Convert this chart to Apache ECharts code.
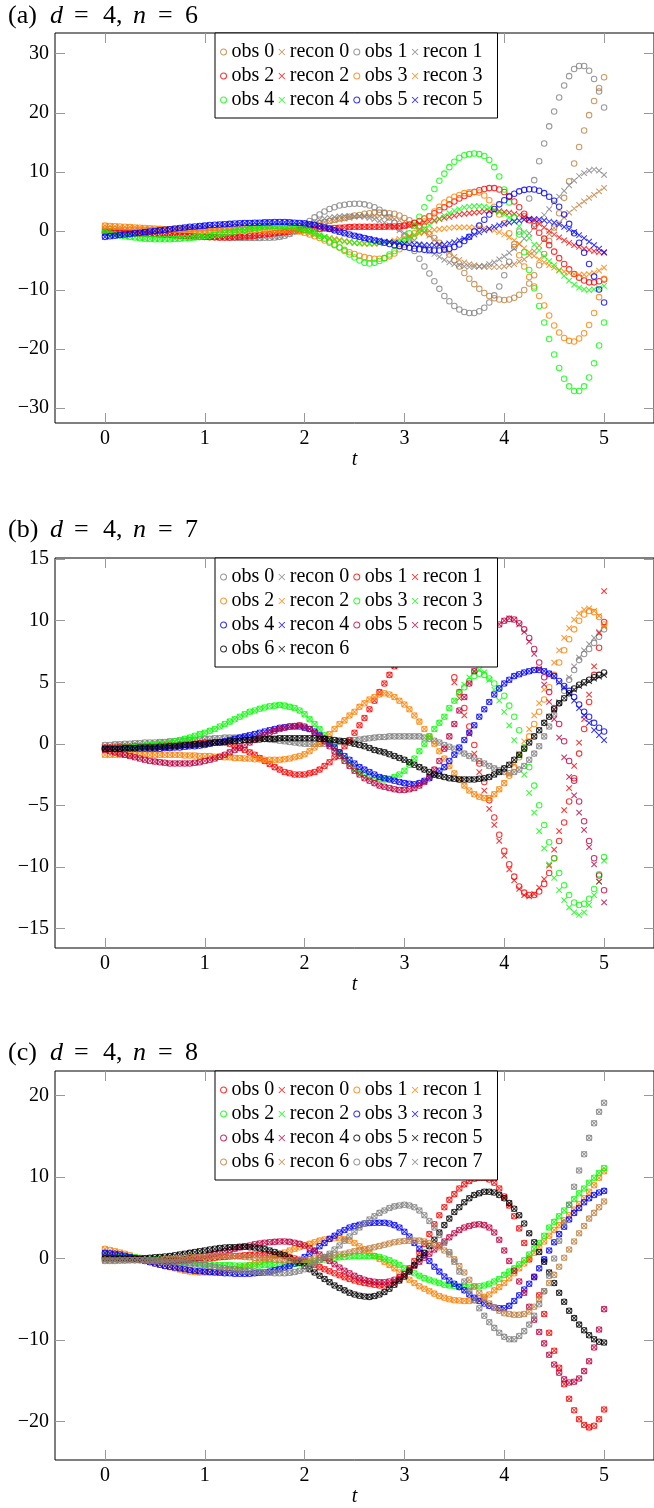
<!DOCTYPE html>
<html>
<head>
<meta charset="UTF-8">
<title>obs / recon</title>
<script src="https://cdn.jsdelivr.net/npm/echarts@6/dist/echarts.min.js"></script>
<style>
    body { margin: 0; padding: 0; background: #fff; }
    #chart { width: 654px; height: 1508px; }
</style>
</head>
<body>
<div id="chart"></div>
<script>
// sample times
var T = [0,0.05,0.1,0.15,0.2,0.25,0.3,0.35,0.4,0.45,0.5,0.55,0.6,0.65,0.7,0.75,0.8,0.85,0.9,0.95,
    1,1.05,1.1,1.15,1.2,1.25,1.3,1.35,1.4,1.45,1.5,1.55,1.6,1.65,1.7,1.75,1.8,1.85,1.9,1.95,
    2,2.05,2.1,2.15,2.2,2.25,2.3,2.35,2.4,2.45,2.5,2.55,2.6,2.65,2.7,2.75,2.8,2.85,2.9,2.95,
    3,3.05,3.1,3.15,3.2,3.25,3.3,3.35,3.4,3.45,3.5,3.55,3.6,3.65,3.7,3.75,3.8,3.85,3.9,3.95,
    4,4.05,4.1,4.15,4.2,4.25,4.3,4.35,4.4,4.45,4.5,4.55,4.6,4.65,4.7,4.75,4.8,4.85,4.9,4.95,5];

var xTicks = [0, 1, 2, 3, 4, 5];
var aYTicks = [-30, -20, -10, 0, 10, 20, 30];
var bYTicks = [-15, -10, -5, 0, 5, 10, 15];
var cYTicks = [-20, -10, 0, 10, 20];

// ---- (a) d = 4, n = 6
var aObs0 = [0.4,0.35,0.3,0.25,0.2,0.2,0.2,0.2,0.2,0.2,
    0.2,0.2,0.25,0.25,0.3,0.3,0.35,0.35,0.4,0.4,
    0.45,0.5,0.5,0.55,0.6,0.6,0.65,0.7,0.7,0.75,
    0.8,0.8,0.8,0.85,0.85,0.85,0.85,0.85,0.85,0.85,
    0.9,1.0,1.1,1.3,1.5,1.7,1.9,2.1,2.2,2.4,
    2.6,2.7,2.9,3.0,3.1,3.1,3.1,3.0,2.9,2.6,
    2.2,1.8,1.3,0.8,0.2,-0.5,-1.2,-2.0,-3.0,-4.0,
    -4.9,-6.0,-7.1,-8.1,-9.0,-9.8,-10.5,-11.0,-11.4,-11.6,
    -11.7,-11.6,-11.3,-10.8,-10.0,-8.9,-7.5,-5.8,-3.9,-1.7,
    0.6,3.0,5.6,8.4,11.4,14.2,17.0,19.6,22.0,24.2,
    26.0];
var aRec0 = [0.4,0.35,0.3,0.25,0.2,0.2,0.2,0.2,0.2,0.2,
    0.2,0.2,0.25,0.25,0.3,0.3,0.35,0.35,0.4,0.4,
    0.45,0.5,0.5,0.55,0.6,0.6,0.65,0.7,0.7,0.75,
    0.8,0.8,0.8,0.85,0.85,0.85,0.85,0.85,0.85,0.85,
    0.9,1.0,1.1,1.3,1.5,1.6,1.8,1.9,2.1,2.2,
    2.4,2.5,2.6,2.6,2.6,2.5,2.4,2.2,2.0,1.8,
    1.6,1.2,0.8,0.3,-0.2,-0.8,-1.5,-2.2,-3.0,-3.7,
    -4.4,-4.9,-5.3,-5.6,-5.8,-6.0,-6.1,-6.1,-6.1,-6.1,
    -6.0,-5.8,-5.6,-5.2,-4.8,-4.1,-3.4,-2.5,-1.5,-0.5,
    0.5,1.4,2.3,3.1,3.8,4.4,5.0,5.6,6.1,6.7,
    7.3];
var aObs1 = [0.0,-0.05,-0.1,-0.15,-0.2,-0.25,-0.3,-0.35,-0.4,-0.45,
    -0.5,-0.55,-0.6,-0.65,-0.7,-0.75,-0.8,-0.85,-0.9,-0.95,
    -1.0,-1.0,-1.05,-1.1,-1.1,-1.15,-1.15,-1.2,-1.2,-1.2,
    -1.2,-1.2,-1.15,-1.15,-1.1,-1.0,-0.8,-0.5,-0.1,0.5,
    1.1,1.7,2.3,2.8,3.3,3.7,4.0,4.3,4.45,4.55,
    4.6,4.6,4.5,4.3,4.0,3.6,3.0,2.3,1.4,0.4,
    -0.8,-2.0,-3.4,-4.7,-6.0,-7.2,-8.5,-9.8,-11.0,-11.9,
    -12.7,-13.3,-13.7,-13.9,-13.9,-13.6,-13.0,-12.1,-10.9,-9.4,
    -7.5,-5.2,-2.7,-0.1,2.5,5.5,8.6,11.8,14.8,17.7,
    20.2,22.6,24.6,26.2,27.4,27.9,27.9,27.1,25.7,23.6,
    20.9];
var aRec1 = [0.0,-0.05,-0.1,-0.15,-0.2,-0.25,-0.3,-0.35,-0.4,-0.45,
    -0.5,-0.55,-0.6,-0.65,-0.7,-0.75,-0.8,-0.85,-0.9,-0.95,
    -1.0,-1.0,-1.05,-1.1,-1.1,-1.15,-1.15,-1.2,-1.2,-1.2,
    -1.2,-1.2,-1.15,-1.15,-1.1,-1.0,-0.8,-0.5,-0.1,0.4,
    0.9,1.3,1.6,1.9,2.1,2.25,2.35,2.45,2.5,2.5,
    2.5,2.5,2.4,2.2,2.0,1.7,1.4,1.0,0.6,0.1,
    -0.4,-1.0,-1.6,-2.2,-2.8,-3.4,-3.9,-4.4,-4.9,-5.3,
    -5.6,-5.8,-6.0,-6.1,-6.1,-6.0,-5.9,-5.6,-5.3,-4.8,
    -4.3,-3.7,-3.0,-2.2,-1.3,-0.4,0.6,1.6,2.7,3.7,
    4.8,5.8,6.8,7.7,8.5,9.3,9.8,10.2,10.4,10.2,
    9.5];
var aObs2 = [-0.3,-0.3,-0.35,-0.35,-0.4,-0.4,-0.45,-0.45,-0.5,-0.5,
    -0.55,-0.6,-0.65,-0.7,-0.75,-0.8,-0.85,-0.9,-0.95,-1.0,
    -1.0,-1.05,-1.05,-1.1,-1.1,-1.1,-1.05,-1.0,-0.95,-0.9,
    -0.8,-0.7,-0.6,-0.5,-0.4,-0.3,-0.2,-0.1,0.0,0.1,
    0.2,0.25,0.3,0.35,0.4,0.45,0.5,0.55,0.6,0.65,
    0.7,0.7,0.7,0.7,0.7,0.7,0.7,0.75,0.75,0.8,
    0.9,1.1,1.4,1.7,2.1,2.5,3.0,3.5,4.0,4.5,
    5.0,5.5,5.9,6.3,6.6,6.9,7.1,7.25,7.25,7.0,
    6.6,5.9,5.0,4.0,2.9,1.8,0.8,-0.3,-1.3,-2.4,
    -3.5,-4.6,-5.6,-6.5,-7.3,-7.9,-8.4,-8.7,-8.7,-8.5,
    -8.2];
var aRec2 = [-0.3,-0.3,-0.35,-0.35,-0.4,-0.4,-0.45,-0.45,-0.5,-0.5,
    -0.55,-0.6,-0.65,-0.7,-0.75,-0.8,-0.85,-0.9,-0.95,-1.0,
    -1.0,-1.05,-1.05,-1.1,-1.1,-1.1,-1.05,-1.0,-0.95,-0.9,
    -0.8,-0.7,-0.6,-0.5,-0.4,-0.3,-0.2,-0.1,0.0,0.1,
    0.2,0.25,0.3,0.35,0.4,0.45,0.5,0.55,0.6,0.65,
    0.7,0.7,0.7,0.7,0.7,0.7,0.7,0.75,0.75,0.8,
    0.8,0.9,1.1,1.3,1.4,1.6,1.8,2.0,2.2,2.4,
    2.6,2.8,2.9,3.0,3.1,3.2,3.3,3.35,3.4,3.35,
    3.2,3.1,2.9,2.7,2.4,2.1,1.7,1.2,0.6,0.0,
    -0.6,-1.1,-1.6,-2.0,-2.4,-2.7,-3.0,-3.2,-3.4,-3.6,
    -3.7];
var aObs3 = [0.9,0.85,0.8,0.75,0.7,0.65,0.6,0.55,0.5,0.45,
    0.4,0.35,0.3,0.25,0.2,0.2,0.15,0.15,0.1,0.1,
    0.1,0.1,0.1,0.15,0.15,0.2,0.2,0.2,0.2,0.2,
    0.2,0.2,0.2,0.2,0.2,0.15,0.1,0.05,0.0,-0.1,
    -0.3,-0.6,-0.9,-1.2,-1.6,-2.0,-2.4,-2.8,-3.2,-3.6,
    -3.9,-4.2,-4.4,-4.6,-4.7,-4.7,-4.6,-4.3,-3.8,-3.1,
    -2.3,-1.4,-0.4,0.6,1.6,2.5,3.3,4.1,4.8,5.3,
    5.8,6.1,6.4,6.55,6.6,6.5,6.0,5.2,4.1,2.8,
    1.3,-0.4,-2.2,-4.1,-6.0,-7.8,-9.4,-11.0,-12.6,-14.3,
    -16.0,-17.2,-18.1,-18.6,-18.7,-18.2,-17.3,-15.9,-13.9,-11.2,
    -8.1];
var aRec3 = [0.9,0.85,0.8,0.75,0.7,0.65,0.6,0.55,0.5,0.45,
    0.4,0.35,0.3,0.25,0.2,0.2,0.15,0.15,0.1,0.1,
    0.1,0.1,0.1,0.15,0.15,0.2,0.2,0.2,0.2,0.2,
    0.2,0.2,0.2,0.2,0.2,0.15,0.1,0.05,0.0,-0.1,
    -0.3,-0.5,-0.7,-0.85,-1.0,-1.2,-1.35,-1.5,-1.7,-1.85,
    -2.0,-2.1,-2.2,-2.2,-2.2,-2.1,-2.0,-1.8,-1.6,-1.35,
    -1.1,-0.85,-0.6,-0.4,-0.2,0.0,0.2,0.3,0.4,0.5,
    0.6,0.6,0.6,0.6,0.6,0.55,0.5,0.3,0.1,-0.2,
    -0.6,-1.1,-1.6,-2.2,-2.9,-3.6,-4.2,-4.8,-5.3,-5.8,
    -6.2,-6.6,-6.9,-7.1,-7.3,-7.4,-7.4,-7.3,-7.1,-6.7,
    -6.2];
var aObs4 = [-0.3,-0.45,-0.6,-0.75,-0.9,-1.0,-1.1,-1.2,-1.3,-1.35,
    -1.4,-1.4,-1.4,-1.4,-1.35,-1.3,-1.25,-1.2,-1.1,-1.0,
    -0.9,-0.8,-0.7,-0.55,-0.4,-0.25,-0.1,0.05,0.2,0.35,
    0.5,0.6,0.7,0.75,0.8,0.8,0.8,0.75,0.65,0.5,
    0.3,0.0,-0.4,-0.8,-1.3,-1.8,-2.3,-2.8,-3.4,-4.0,
    -4.5,-5.0,-5.4,-5.5,-5.4,-5.1,-4.6,-4.0,-3.4,-2.6,
    -1.6,-0.4,0.9,2.4,4.0,5.6,7.1,8.5,9.7,10.8,
    11.7,12.4,12.8,13.0,13.1,13.0,12.7,12.0,10.8,9.2,
    7.0,4.8,2.3,-0.6,-3.6,-6.6,-9.7,-12.7,-15.5,-18.3,
    -20.9,-23.2,-25.0,-26.3,-27.1,-27.1,-26.3,-24.8,-22.4,-19.4,
    -15.5];
var aRec4 = [-0.3,-0.45,-0.6,-0.75,-0.9,-1.0,-1.1,-1.2,-1.3,-1.35,
    -1.4,-1.4,-1.4,-1.4,-1.35,-1.3,-1.25,-1.2,-1.1,-1.0,
    -0.9,-0.8,-0.7,-0.55,-0.4,-0.25,-0.1,0.05,0.2,0.35,
    0.5,0.6,0.7,0.75,0.8,0.8,0.8,0.75,0.65,0.5,
    0.2,-0.1,-0.4,-0.7,-1.0,-1.25,-1.5,-1.65,-1.8,-1.9,
    -2.0,-2.05,-2.1,-2.1,-2.1,-2.05,-2.0,-1.95,-1.9,-1.8,
    -1.7,-1.3,-0.8,-0.2,0.4,1.0,1.6,2.1,2.6,3.0,
    3.4,3.7,4.0,4.1,4.2,4.2,4.1,3.9,3.6,3.2,
    2.8,2.3,1.6,0.8,-0.2,-1.2,-2.3,-3.3,-4.3,-5.1,
    -5.8,-6.7,-7.6,-8.4,-9.1,-9.6,-9.9,-10.0,-9.9,-9.7,
    -9.3];
var aObs5 = [-1.0,-0.9,-0.8,-0.7,-0.6,-0.5,-0.4,-0.3,-0.2,-0.1,
    0.0,0.1,0.2,0.3,0.4,0.5,0.6,0.7,0.75,0.85,
    0.9,1.0,1.05,1.1,1.15,1.2,1.25,1.3,1.35,1.35,
    1.4,1.4,1.45,1.45,1.5,1.5,1.5,1.45,1.4,1.35,
    1.3,1.15,1.0,0.8,0.6,0.35,0.1,-0.15,-0.4,-0.6,
    -0.8,-1.0,-1.2,-1.4,-1.6,-1.8,-2.0,-2.2,-2.4,-2.55,
    -2.7,-2.85,-3.0,-3.1,-3.2,-3.25,-3.3,-3.3,-3.2,-3.0,
    -2.7,-2.3,-1.7,-1.0,-0.1,0.9,1.9,2.8,3.7,4.5,
    5.2,5.8,6.3,6.7,6.95,7.05,7.0,6.8,6.4,5.8,
    5.1,4.1,2.8,1.2,-0.4,-2.0,-3.7,-5.6,-7.7,-9.9,
    -12.1];
var aRec5 = [-1.0,-0.9,-0.8,-0.7,-0.6,-0.5,-0.4,-0.3,-0.2,-0.1,
    0.0,0.1,0.2,0.3,0.4,0.5,0.6,0.7,0.75,0.85,
    0.9,1.0,1.05,1.1,1.15,1.2,1.25,1.3,1.35,1.35,
    1.4,1.4,1.45,1.45,1.5,1.5,1.5,1.45,1.4,1.35,
    1.3,1.15,1.0,0.8,0.6,0.35,0.1,-0.15,-0.4,-0.6,
    -0.8,-1.0,-1.2,-1.35,-1.5,-1.65,-1.8,-1.9,-2.0,-2.1,
    -2.2,-2.25,-2.3,-2.35,-2.4,-2.4,-2.4,-2.35,-2.3,-2.1,
    -1.9,-1.6,-1.3,-1.0,-0.6,-0.25,0.1,0.4,0.7,0.95,
    1.2,1.4,1.6,1.75,1.9,1.95,2.0,1.95,1.8,1.6,
    1.4,1.1,0.7,0.25,-0.2,-0.7,-1.2,-1.8,-2.4,-3.0,
    -3.6];

// ---- (b) d = 4, n = 7
var bObs0 = [-0.1,-0.1,-0.05,-0.05,0.0,0.0,0.05,0.05,0.1,0.1,
    0.1,0.15,0.15,0.2,0.2,0.25,0.25,0.3,0.3,0.35,
    0.4,0.4,0.45,0.45,0.5,0.5,0.5,0.5,0.5,0.5,
    0.45,0.45,0.4,0.35,0.3,0.25,0.2,0.15,0.1,0.05,
    0.0,0.0,0.0,0.0,0.0,0.05,0.1,0.15,0.2,0.25,
    0.3,0.35,0.4,0.45,0.5,0.55,0.55,0.6,0.6,0.6,
    0.6,0.6,0.6,0.6,0.5,0.4,0.25,0.1,-0.1,-0.25,
    -0.4,-0.6,-0.8,-1.0,-1.2,-1.4,-1.6,-1.8,-2.0,-2.15,
    -2.3,-2.4,-2.3,-2.1,-1.8,-1.3,-0.8,-0.2,0.6,1.4,
    2.4,3.3,4.3,5.2,6.0,6.8,7.3,7.7,8.2,8.7,
    9.3];
var bRec0 = [-0.1,-0.1,-0.05,-0.05,0.0,0.0,0.05,0.05,0.1,0.1,
    0.1,0.15,0.15,0.2,0.2,0.25,0.25,0.3,0.3,0.35,
    0.4,0.4,0.45,0.45,0.5,0.5,0.5,0.5,0.5,0.5,
    0.45,0.45,0.4,0.35,0.3,0.25,0.2,0.15,0.1,0.05,
    0.0,0.0,0.0,0.0,0.0,0.05,0.1,0.15,0.2,0.25,
    0.3,0.35,0.4,0.45,0.5,0.55,0.55,0.6,0.6,0.6,
    0.6,0.6,0.6,0.6,0.5,0.4,0.25,0.1,-0.1,-0.25,
    -0.4,-0.6,-0.8,-1.0,-1.2,-1.4,-1.6,-1.8,-2.0,-2.15,
    -2.3,-2.4,-2.3,-2.1,-1.8,-1.3,-0.8,-0.2,0.6,1.4,
    2.4,3.4,4.5,5.4,6.3,7.0,7.6,8.1,8.6,9.1,
    9.6];
var bObs1 = [-0.3,-0.3,-0.3,-0.25,-0.25,-0.25,-0.2,-0.2,-0.2,-0.2,
    -0.2,-0.15,-0.15,-0.1,-0.1,-0.05,-0.05,0.0,0.0,0.05,
    0.1,0.1,0.1,0.1,0.1,0.0,-0.2,-0.35,-0.5,-0.7,
    -0.9,-1.15,-1.4,-1.65,-1.9,-2.1,-2.3,-2.4,-2.5,-2.5,
    -2.5,-2.4,-2.3,-2.1,-1.8,-1.5,-1.1,-0.7,-0.2,0.3,
    0.9,1.5,2.1,2.8,3.5,4.2,4.9,5.6,6.3,6.9,
    7.5,7.9,8.3,8.5,8.6,8.5,8.3,7.9,7.3,6.5,
    5.4,4.2,2.9,1.4,-0.1,-1.6,-3.1,-4.6,-6.0,-7.4,
    -8.7,-9.8,-10.8,-11.6,-12.1,-12.3,-12.3,-12.0,-11.4,-10.5,
    -9.3,-7.9,-6.4,-4.7,-2.8,-0.8,1.2,3.4,5.6,7.8,
    9.9];
var bRec1 = [-0.3,-0.3,-0.3,-0.25,-0.25,-0.25,-0.2,-0.2,-0.2,-0.2,
    -0.2,-0.15,-0.15,-0.1,-0.1,-0.05,-0.05,0.0,0.0,0.05,
    0.1,0.1,0.1,0.1,0.1,0.0,-0.2,-0.35,-0.5,-0.7,
    -0.9,-1.15,-1.4,-1.65,-1.9,-2.1,-2.3,-2.4,-2.5,-2.5,
    -2.5,-2.4,-2.3,-2.1,-1.8,-1.5,-1.1,-0.7,-0.2,0.3,
    0.9,1.5,2.1,2.8,3.5,4.2,4.9,5.6,6.3,6.9,
    7.5,7.9,8.3,8.5,8.6,8.5,8.3,7.9,7.3,6.5,
    5.0,3.7,2.3,0.8,-0.8,-2.3,-3.8,-5.3,-6.6,-7.9,
    -9.1,-10.2,-11.1,-11.8,-12.3,-12.4,-12.2,-11.7,-11.0,-9.9,
    -8.6,-7.1,-5.4,-3.6,-1.8,0.1,2.0,4.0,6.3,9.0,
    12.4];
var bObs2 = [-0.9,-0.9,-0.9,-0.9,-0.9,-0.9,-0.9,-0.9,-0.9,-0.9,
    -0.9,-0.9,-0.9,-0.9,-0.9,-0.9,-0.95,-0.95,-0.95,-1.0,
    -1.0,-1.0,-1.05,-1.05,-1.1,-1.1,-1.15,-1.15,-1.2,-1.2,
    -1.25,-1.25,-1.3,-1.3,-1.3,-1.3,-1.25,-1.2,-1.1,-1.0,
    -0.85,-0.6,-0.3,0.0,0.4,0.8,1.2,1.6,1.9,2.3,
    2.6,3.0,3.3,3.6,3.8,4.0,4.1,4.0,3.8,3.5,
    3.2,2.8,2.3,1.8,1.2,0.6,0.0,-0.6,-1.2,-1.8,
    -2.4,-2.9,-3.4,-3.8,-4.1,-4.3,-4.4,-4.4,-4.1,-3.7,
    -3.2,-2.6,-1.9,-1.1,-0.3,0.6,1.6,2.6,3.6,4.6,
    5.6,6.6,7.6,8.5,9.3,10.0,10.5,10.8,10.7,10.3,
    9.7];
var bRec2 = [-0.9,-0.9,-0.9,-0.9,-0.9,-0.9,-0.9,-0.9,-0.9,-0.9,
    -0.9,-0.9,-0.9,-0.9,-0.9,-0.9,-0.95,-0.95,-0.95,-1.0,
    -1.0,-1.0,-1.05,-1.05,-1.1,-1.1,-1.15,-1.15,-1.2,-1.2,
    -1.25,-1.25,-1.3,-1.3,-1.3,-1.3,-1.25,-1.2,-1.1,-1.0,
    -0.85,-0.6,-0.3,0.0,0.4,0.8,1.2,1.6,1.9,2.3,
    2.6,3.0,3.3,3.6,3.8,4.0,4.1,4.0,3.8,3.5,
    3.2,2.8,2.3,1.8,1.2,0.6,0.0,-0.6,-1.2,-1.8,
    -2.4,-2.9,-3.4,-3.8,-4.1,-4.3,-4.4,-4.4,-4.1,-3.7,
    -3.2,-2.5,-1.7,-0.8,0.2,1.2,2.3,3.3,4.4,5.5,
    6.6,7.6,8.6,9.4,10.1,10.6,10.9,11.0,10.8,10.4,
    9.5];
var bObs3 = [-0.4,-0.4,-0.35,-0.35,-0.3,-0.3,-0.25,-0.2,-0.15,-0.1,
    -0.05,0.0,0.0,0.1,0.2,0.3,0.4,0.5,0.65,0.8,
    0.9,1.05,1.2,1.4,1.6,1.8,2.0,2.2,2.4,2.6,
    2.7,2.85,2.95,3.05,3.1,3.15,3.1,3.0,2.9,2.7,
    2.4,2.0,1.6,1.2,0.7,0.2,-0.3,-0.8,-1.2,-1.6,
    -2.0,-2.3,-2.5,-2.65,-2.8,-2.85,-2.9,-2.85,-2.7,-2.5,
    -2.2,-1.7,-1.2,-0.6,0.0,0.6,1.2,1.7,2.2,2.9,
    3.5,4.1,4.6,5.1,5.5,5.7,5.6,5.3,4.9,4.5,
    3.9,3.1,2.2,1.1,-0.3,-1.9,-3.4,-5.0,-6.6,-8.0,
    -9.3,-10.5,-11.5,-12.3,-12.9,-13.1,-13.0,-12.6,-11.8,-10.6,
    -9.2];
var bRec3 = [-0.4,-0.4,-0.35,-0.35,-0.3,-0.3,-0.25,-0.2,-0.15,-0.1,
    -0.05,0.0,0.0,0.1,0.2,0.3,0.4,0.5,0.65,0.8,
    0.9,1.05,1.2,1.4,1.6,1.8,2.0,2.2,2.4,2.6,
    2.7,2.85,2.95,3.05,3.1,3.15,3.1,3.0,2.9,2.7,
    2.4,2.0,1.6,1.2,0.7,0.2,-0.3,-0.8,-1.2,-1.6,
    -2.0,-2.3,-2.5,-2.65,-2.8,-2.85,-2.9,-2.85,-2.7,-2.5,
    -2.2,-1.7,-1.2,-0.6,0.0,0.6,1.2,1.7,2.2,2.9,
    3.5,4.2,4.8,5.4,5.8,6.0,5.8,5.2,4.4,3.5,
    2.6,1.5,0.3,-1.0,-2.5,-4.0,-5.6,-7.1,-8.5,-9.8,
    -10.9,-11.9,-12.7,-13.3,-13.7,-13.9,-13.7,-13.1,-12.3,-11.2,
    -9.5];
var bObs4 = [-0.4,-0.4,-0.4,-0.4,-0.4,-0.4,-0.4,-0.4,-0.4,-0.4,
    -0.4,-0.4,-0.35,-0.35,-0.3,-0.3,-0.25,-0.2,-0.2,-0.15,
    -0.1,0.0,0.1,0.15,0.2,0.3,0.4,0.5,0.6,0.7,
    0.8,0.9,1.0,1.1,1.2,1.3,1.35,1.4,1.4,1.4,
    1.3,1.2,1.0,0.7,0.4,0.0,-0.3,-0.7,-1.0,-1.3,
    -1.6,-1.9,-2.1,-2.3,-2.5,-2.7,-2.8,-2.9,-3.0,-3.1,
    -3.2,-3.25,-3.3,-3.2,-3.0,-2.8,-2.5,-2.2,-1.9,-1.4,
    -0.9,-0.3,0.3,0.9,1.5,2.2,2.8,3.4,4.0,4.5,
    4.9,5.2,5.5,5.65,5.8,5.9,6.0,6.0,5.9,5.7,
    5.5,5.1,4.7,4.3,3.8,3.2,2.6,2.2,1.7,1.3,
    1.0];
var bRec4 = [-0.4,-0.4,-0.4,-0.4,-0.4,-0.4,-0.4,-0.4,-0.4,-0.4,
    -0.4,-0.4,-0.35,-0.35,-0.3,-0.3,-0.25,-0.2,-0.2,-0.15,
    -0.1,0.0,0.1,0.15,0.2,0.3,0.4,0.5,0.6,0.7,
    0.8,0.9,1.0,1.1,1.2,1.3,1.35,1.4,1.4,1.4,
    1.3,1.2,1.0,0.7,0.4,0.0,-0.3,-0.7,-1.0,-1.3,
    -1.6,-1.9,-2.1,-2.3,-2.5,-2.7,-2.8,-2.9,-3.0,-3.1,
    -3.2,-3.25,-3.3,-3.2,-3.0,-2.8,-2.5,-2.2,-1.9,-1.4,
    -0.9,-0.3,0.3,0.9,1.5,2.2,2.8,3.4,4.0,4.5,
    4.9,5.2,5.5,5.65,5.8,5.9,6.0,6.0,5.9,5.7,
    5.5,5.0,4.6,4.1,3.5,2.9,2.3,1.7,1.1,0.7,
    0.3];
var bObs5 = [-0.5,-0.6,-0.7,-0.8,-0.9,-1.0,-1.1,-1.2,-1.3,-1.4,
    -1.45,-1.5,-1.55,-1.6,-1.6,-1.6,-1.6,-1.6,-1.55,-1.5,
    -1.4,-1.3,-1.2,-1.05,-0.9,-0.7,-0.5,-0.3,-0.1,0.1,
    0.3,0.5,0.7,0.9,1.05,1.2,1.3,1.4,1.45,1.5,
    1.4,1.2,0.9,0.6,0.2,-0.2,-0.6,-1.0,-1.4,-1.8,
    -2.2,-2.5,-2.8,-3.0,-3.2,-3.4,-3.5,-3.6,-3.7,-3.75,
    -3.75,-3.7,-3.6,-3.4,-3.1,-2.7,-2.1,-1.4,-0.4,0.6,
    1.6,2.7,3.8,4.9,5.9,6.9,7.9,8.7,9.3,9.7,
    10.0,10.15,10.1,9.8,9.3,8.6,7.7,6.6,5.4,4.2,
    2.9,1.6,0.2,-1.4,-3.0,-4.7,-6.3,-7.9,-9.3,-10.7,
    -11.9];
var bRec5 = [-0.5,-0.6,-0.7,-0.8,-0.9,-1.0,-1.1,-1.2,-1.3,-1.4,
    -1.45,-1.5,-1.55,-1.6,-1.6,-1.6,-1.6,-1.6,-1.55,-1.5,
    -1.4,-1.3,-1.2,-1.05,-0.9,-0.7,-0.5,-0.3,-0.1,0.1,
    0.3,0.5,0.7,0.9,1.05,1.2,1.3,1.4,1.45,1.5,
    1.4,1.2,0.9,0.6,0.2,-0.2,-0.6,-1.0,-1.4,-1.8,
    -2.2,-2.5,-2.8,-3.0,-3.2,-3.4,-3.5,-3.6,-3.7,-3.75,
    -3.75,-3.7,-3.6,-3.4,-3.1,-2.7,-2.1,-1.4,-0.4,0.6,
    1.6,2.7,3.8,4.9,5.9,6.9,7.9,8.7,9.3,9.7,
    10.0,10.2,10.1,9.7,9.1,8.3,7.3,6.1,4.8,3.4,
    2.0,0.5,-1.1,-2.7,-4.2,-5.6,-7.0,-8.4,-9.8,-11.2,
    -12.9];
var bObs6 = [-0.4,-0.4,-0.4,-0.4,-0.35,-0.35,-0.35,-0.3,-0.3,-0.3,
    -0.3,-0.25,-0.25,-0.2,-0.2,-0.15,-0.1,-0.1,-0.05,0.0,
    0.0,0.05,0.1,0.1,0.15,0.2,0.2,0.25,0.3,0.3,
    0.35,0.35,0.4,0.4,0.4,0.45,0.45,0.45,0.45,0.45,
    0.45,0.45,0.45,0.4,0.4,0.35,0.3,0.25,0.2,0.1,
    0.0,-0.1,-0.2,-0.35,-0.5,-0.6,-0.7,-0.85,-1.0,-1.15,
    -1.3,-1.5,-1.7,-1.9,-2.1,-2.3,-2.5,-2.6,-2.7,-2.8,
    -2.85,-2.9,-2.9,-2.9,-2.9,-2.85,-2.8,-2.7,-2.5,-2.3,
    -2.0,-1.7,-1.3,-0.9,-0.4,0.1,0.6,1.1,1.7,2.2,
    2.8,3.3,3.7,4.1,4.5,4.8,5.0,5.2,5.4,5.6,
    5.8];
var bRec6 = [-0.4,-0.4,-0.4,-0.4,-0.35,-0.35,-0.35,-0.3,-0.3,-0.3,
    -0.3,-0.25,-0.25,-0.2,-0.2,-0.15,-0.1,-0.1,-0.05,0.0,
    0.0,0.05,0.1,0.1,0.15,0.2,0.2,0.25,0.3,0.3,
    0.35,0.35,0.4,0.4,0.4,0.45,0.45,0.45,0.45,0.45,
    0.45,0.45,0.45,0.4,0.4,0.35,0.3,0.25,0.2,0.1,
    0.0,-0.1,-0.2,-0.35,-0.5,-0.6,-0.7,-0.85,-1.0,-1.15,
    -1.3,-1.5,-1.7,-1.9,-2.1,-2.3,-2.5,-2.6,-2.7,-2.8,
    -2.85,-2.9,-2.9,-2.9,-2.9,-2.85,-2.8,-2.7,-2.5,-2.3,
    -2.0,-1.7,-1.3,-0.9,-0.4,0.1,0.6,1.1,1.7,2.2,
    2.8,3.3,3.7,4.1,4.4,4.7,4.9,5.1,5.3,5.45,
    5.6];

// ---- (c) d = 4, n = 8 (recon markers sit right on the obs markers)
var cObs0 = [0.6,0.5,0.4,0.3,0.2,0.1,0.0,-0.1,-0.2,-0.25,
    -0.3,-0.3,-0.3,-0.3,-0.3,-0.3,-0.3,-0.25,-0.2,-0.15,
    -0.1,0.0,0.1,0.15,0.2,0.25,0.3,0.35,0.4,0.45,
    0.5,0.5,0.5,0.5,0.45,0.4,0.3,0.15,0.0,-0.15,
    -0.3,-0.55,-0.8,-1.05,-1.3,-1.55,-1.8,-2.05,-2.3,-2.5,
    -2.7,-2.85,-3.0,-3.1,-3.2,-3.3,-3.3,-3.2,-2.9,-2.5,
    -1.9,-1.2,-0.3,0.7,1.8,3.0,4.2,5.3,6.3,7.2,
    7.9,8.6,9.1,9.5,9.8,9.9,9.9,9.7,9.3,8.6,
    7.6,6.5,5.2,3.7,1.9,-0.1,-2.2,-4.5,-6.8,-9.1,
    -11.3,-13.4,-15.4,-17.2,-18.6,-19.7,-20.4,-20.7,-20.5,-19.7,
    -18.5];
var cObs1 = [1.2,1.05,0.9,0.75,0.6,0.4,0.2,0.0,-0.2,-0.4,
    -0.6,-0.75,-0.9,-1.05,-1.2,-1.35,-1.5,-1.6,-1.65,-1.7,
    -1.7,-1.7,-1.65,-1.6,-1.5,-1.4,-1.25,-1.1,-1.0,-0.8,
    -0.6,-0.4,-0.2,0.0,0.3,0.5,0.75,1.0,1.2,1.4,
    1.6,1.8,2.0,2.2,2.35,2.45,2.5,2.5,2.4,2.2,
    1.9,1.5,1.1,0.7,0.3,-0.05,-0.4,-0.8,-1.2,-1.7,
    -2.2,-2.6,-3.0,-3.4,-3.7,-4.0,-4.3,-4.6,-4.8,-5.0,
    -5.1,-5.15,-5.2,-5.2,-5.1,-4.9,-4.7,-4.4,-3.9,-3.5,
    -3.0,-2.4,-1.8,-1.2,-0.6,0.1,0.7,1.4,2.1,2.8,
    3.5,4.1,4.7,5.3,6.0,6.7,7.4,8.2,9.0,9.9,
    10.7];
var cObs2 = [0.4,0.35,0.3,0.25,0.2,0.2,0.15,0.1,0.05,0.0,
    -0.05,-0.1,-0.15,-0.2,-0.3,-0.35,-0.4,-0.5,-0.55,-0.6,
    -0.65,-0.7,-0.75,-0.8,-0.8,-0.8,-0.85,-0.85,-0.85,-0.85,
    -0.85,-0.85,-0.8,-0.8,-0.8,-0.75,-0.75,-0.7,-0.65,-0.6,
    -0.5,-0.4,-0.3,-0.2,-0.1,0.0,0.1,0.15,0.2,0.25,
    0.3,0.3,0.3,0.3,0.3,0.2,0.0,-0.2,-0.5,-0.8,
    -1.2,-1.5,-1.8,-2.1,-2.4,-2.6,-2.8,-3.0,-3.2,-3.3,
    -3.35,-3.4,-3.45,-3.45,-3.45,-3.4,-3.3,-3.1,-2.8,-2.5,
    -2.0,-1.6,-1.2,-0.7,-0.2,0.5,1.2,1.9,2.8,3.8,
    4.5,5.2,5.9,6.6,7.3,8.0,8.6,9.3,9.9,10.5,
    11.1];
var cObs3 = [0.7,0.65,0.6,0.5,0.35,0.2,0.05,-0.1,-0.3,-0.45,
    -0.6,-0.75,-0.9,-1.0,-1.1,-1.2,-1.3,-1.4,-1.5,-1.55,
    -1.6,-1.65,-1.7,-1.75,-1.8,-1.8,-1.85,-1.85,-1.85,-1.85,
    -1.8,-1.75,-1.7,-1.6,-1.45,-1.3,-1.1,-0.9,-0.6,-0.3,
    0.2,0.6,1.0,1.5,1.9,2.4,2.8,3.2,3.5,3.8,
    4.0,4.15,4.3,4.35,4.4,4.4,4.4,4.3,4.1,3.8,
    3.3,2.7,1.9,1.2,0.4,-0.3,-1.0,-1.6,-2.2,-2.7,
    -3.1,-3.5,-3.9,-4.4,-4.8,-5.2,-5.5,-5.8,-6.0,-6.1,
    -6.1,-5.8,-5.2,-4.5,-3.8,-3.1,-2.3,-1.2,-0.1,1.0,
    2.0,3.0,3.9,4.8,5.6,6.2,6.9,7.4,7.8,8.1,
    8.3];
var cObs4 = [0.1,0.1,0.05,0.05,0.0,0.0,-0.05,-0.1,-0.15,-0.2,
    -0.25,-0.3,-0.3,-0.3,-0.3,-0.25,-0.2,-0.1,0.0,0.1,
    0.3,0.45,0.6,0.75,0.9,1.05,1.2,1.35,1.5,1.6,
    1.75,1.85,1.95,2.0,2.05,2.1,2.1,2.05,1.95,1.8,
    1.6,1.3,0.9,0.5,0.1,-0.3,-0.7,-1.1,-1.5,-1.8,
    -2.1,-2.4,-2.6,-2.75,-2.85,-2.9,-2.9,-2.8,-2.6,-2.3,
    -1.9,-1.4,-0.9,-0.4,0.1,0.6,1.1,1.6,2.1,2.6,
    3.1,3.5,3.8,4.0,4.15,4.2,4.1,3.8,3.2,2.3,
    1.0,-0.3,-1.5,-2.8,-4.2,-5.9,-7.5,-9.0,-10.4,-11.8,
    -13.0,-14.0,-14.8,-15.2,-15.1,-14.7,-13.8,-12.6,-10.9,-8.7,
    -6.2];
var cObs5 = [0.0,0.0,0.0,0.0,0.0,0.0,0.0,0.0,0.05,0.1,
    0.15,0.2,0.25,0.3,0.4,0.5,0.6,0.7,0.8,0.9,
    1.0,1.1,1.2,1.3,1.35,1.4,1.4,1.45,1.45,1.4,
    1.35,1.25,1.15,1.0,0.8,0.6,0.4,0.1,-0.2,-0.5,
    -0.9,-1.3,-1.7,-2.1,-2.5,-2.9,-3.3,-3.6,-3.9,-4.2,
    -4.4,-4.55,-4.65,-4.7,-4.6,-4.4,-4.1,-3.7,-3.2,-2.7,
    -2.2,-1.6,-0.8,0.0,0.7,1.5,2.3,3.2,4.1,4.9,
    5.7,6.3,6.9,7.4,7.8,8.0,8.2,8.2,8.1,7.8,
    7.4,6.8,6.1,5.3,4.3,3.1,2.0,0.8,-0.4,-1.7,
    -3.0,-4.2,-5.3,-6.4,-7.3,-8.1,-8.8,-9.4,-9.9,-10.2,
    -10.3];
var cObs6 = [-0.3,-0.3,-0.3,-0.25,-0.25,-0.2,-0.2,-0.2,-0.2,-0.2,
    -0.2,-0.15,-0.1,-0.05,0.0,0.05,0.1,0.15,0.2,0.2,
    0.25,0.25,0.3,0.3,0.3,0.3,0.3,0.25,0.2,0.15,
    0.1,0.05,0.0,-0.05,-0.1,-0.15,-0.2,-0.2,-0.2,-0.2,
    -0.2,-0.1,0.0,0.1,0.2,0.3,0.4,0.5,0.6,0.75,
    0.9,1.0,1.1,1.25,1.4,1.55,1.7,1.85,2.0,2.1,
    2.15,2.2,2.2,2.2,2.1,1.9,1.7,1.4,1.0,0.5,
    -0.1,-0.9,-1.7,-2.6,-3.4,-4.2,-4.9,-5.5,-6.0,-6.4,
    -6.7,-6.8,-6.9,-6.9,-6.8,-6.5,-5.9,-5.0,-4.0,-3.0,
    -2.0,-1.0,0.1,1.1,2.1,3.1,4.0,4.9,5.6,6.3,
    7.0];
var cObs7 = [-0.2,-0.2,-0.2,-0.2,-0.2,-0.2,-0.2,-0.2,-0.25,-0.3,
    -0.3,-0.35,-0.4,-0.4,-0.45,-0.5,-0.55,-0.6,-0.7,-0.75,
    -0.8,-0.9,-1.0,-1.1,-1.2,-1.3,-1.35,-1.4,-1.5,-1.55,
    -1.6,-1.65,-1.7,-1.75,-1.8,-1.8,-1.8,-1.75,-1.65,-1.5,
    -1.3,-1.0,-0.6,-0.2,0.2,0.6,1.1,1.6,2.2,2.7,
    3.3,3.8,4.3,4.8,5.2,5.6,5.9,6.2,6.4,6.5,
    6.6,6.5,6.3,5.9,5.3,4.6,3.8,2.9,1.9,0.8,
    -0.4,-1.6,-2.8,-4.0,-5.1,-6.1,-7.0,-7.8,-8.5,-9.1,
    -9.6,-9.9,-9.9,-9.5,-8.9,-8.1,-7.0,-5.6,-4.0,-2.1,
    0.0,2.2,4.4,6.6,8.8,10.8,12.8,14.8,16.6,18.0,
    19.1];

var aColors = ['#BF8040', '#808080', '#FF0000', '#FF8000', '#00FF00', '#0000FF'];
var bColors = ['#808080', '#FF0000', '#FF8000', '#00FF00', '#0000FF', '#BF0040', '#000000'];
var cColors = ['#FF0000', '#FF8000', '#00FF00', '#0000FF', '#BF0040', '#000000', '#BF8040', '#808080'];

var panels = [
    {key: 'a', tag: '(a)', n: '6', top: 33, yMin: -32.5, yMax: 33.5, ticks: aYTicks, colors: aColors,
        obs: [aObs0, aObs1, aObs2, aObs3, aObs4, aObs5],
        rec: [aRec0, aRec1, aRec2, aRec3, aRec4, aRec5]},
    {key: 'b', tag: '(b)', n: '7', top: 558, yMin: -16.6, yMax: 15.1, ticks: bYTicks, colors: bColors,
        obs: [bObs0, bObs1, bObs2, bObs3, bObs4, bObs5, bObs6],
        rec: [bRec0, bRec1, bRec2, bRec3, bRec4, bRec5, bRec6]},
    {key: 'c', tag: '(c)', n: '8', top: 1071, yMin: -24.7, yMax: 23.0, ticks: cYTicks, colors: cColors,
        obs: [cObs0, cObs1, cObs2, cObs3, cObs4, cObs5, cObs6, cObs7],
        rec: [cObs0, cObs1, cObs2, cObs3, cObs4, cObs5, cObs6, cObs7]}
];

var FONT = '"Liberation Serif", "DejaVu Serif", serif';
var CROSS = 'path://M0,0L10,10M10,0L0,10';

function minus(v) {
    return v < 0 ? '\u2212' + (-v) : String(v);
}

function pairs(ys) {
    var out = [];
    for (var i = 0; i < T.length; i++) out.push([T[i], ys[i]]);
    return out;
}

var chart = echarts.init(document.getElementById('chart'), null, {renderer: 'canvas'});

var option = {
    animation: false,
    backgroundColor: '#fff',
    grid: [], xAxis: [], yAxis: [], series: [], legend: [], graphic: []
};

panels.forEach(function (p, k) {
    option.grid.push({
        left: 55, top: p.top, width: 601, height: 390,
        show: true, borderColor: '#000', borderWidth: 1
    });
    var tick = {inside: true, length: 10, lineStyle: {color: '#999', width: 1}};
    var noLine = {show: false, onZero: false};
    option.xAxis.push({
        type: 'value', gridIndex: k, min: -0.5, max: 5.5, position: 'bottom',
        axisLine: noLine, splitLine: {show: false},
        axisTick: Object.assign({customValues: xTicks}, tick),
        axisLabel: {customValues: xTicks, margin: 6, fontFamily: FONT, fontSize: 20, color: '#000'},
        name: 't', nameLocation: 'middle', nameGap: 27,
        nameTextStyle: {fontFamily: FONT, fontSize: 20, fontStyle: 'italic', color: '#000'}
    });
    option.xAxis.push({
        type: 'value', gridIndex: k, min: -0.5, max: 5.5, position: 'top',
        axisLine: noLine, splitLine: {show: false},
        axisTick: Object.assign({customValues: xTicks}, tick),
        axisLabel: {show: false}
    });
    option.yAxis.push({
        type: 'value', gridIndex: k, min: p.yMin, max: p.yMax, position: 'left',
        axisLine: noLine, splitLine: {show: false},
        axisTick: Object.assign({customValues: p.ticks}, tick),
        axisLabel: {customValues: p.ticks, margin: 6, fontFamily: FONT, fontSize: 20, color: '#000', formatter: minus}
    });
    option.yAxis.push({
        type: 'value', gridIndex: k, min: p.yMin, max: p.yMax, position: 'right',
        axisLine: noLine, splitLine: {show: false},
        axisTick: Object.assign({customValues: p.ticks}, tick),
        axisLabel: {show: false}
    });

    var legendData = [];
    p.obs.forEach(function (ys, i) {
        var c = p.colors[i];
        var style = {color: 'rgba(0,0,0,0)', borderColor: c, borderWidth: 1.05};
        var on = p.key + '|obs ' + i, rn = p.key + '|recon ' + i;
        option.series.push({
            name: on, type: 'scatter', xAxisIndex: 2 * k, yAxisIndex: 2 * k,
            symbol: 'circle', symbolSize: 5.5, itemStyle: style, silent: true,
            data: pairs(ys)
        });
        option.series.push({
            name: rn, type: 'scatter', xAxisIndex: 2 * k, yAxisIndex: 2 * k,
            symbol: CROSS, symbolSize: 5.5, itemStyle: style, silent: true,
            data: pairs(p.rec[i])
        });
        legendData.push({name: on, icon: 'circle', itemStyle: style});
        legendData.push({name: rn, icon: CROSS, itemStyle: style});
    });

    option.legend.push({
        left: 215, top: p.top, width: 272, orient: 'horizontal',
        padding: [9, 15, 8, 5], itemGap: 4, itemWidth: 6, itemHeight: 6,
        backgroundColor: '#fff', borderColor: '#000', borderWidth: 1,
        selectedMode: false,
        textStyle: {fontFamily: FONT, fontSize: 20, color: '#000'},
        formatter: function (name) { return name.split('|')[1]; },
        data: legendData
    });

    // panel heading "(a) d = 4, n = 6"
    var tTop = [3, 517, 1040][k];
    var parts = [[p.tag, 8, 'normal'], ['d', 50, 'italic'], ['=', 74, 'normal'], ['4,', 103, 'normal'],
        ['n', 133, 'italic'], ['=', 158, 'normal'], [p.n, 185, 'normal']];
    parts.forEach(function (q) {
        option.graphic.push({
            type: 'text', left: q[1], top: tTop,
            style: {text: q[0], fontFamily: FONT, fontSize: 26, fontStyle: q[2], fill: '#000'}
        });
    });
});

chart.setOption(option);
</script>
</body>
</html>
